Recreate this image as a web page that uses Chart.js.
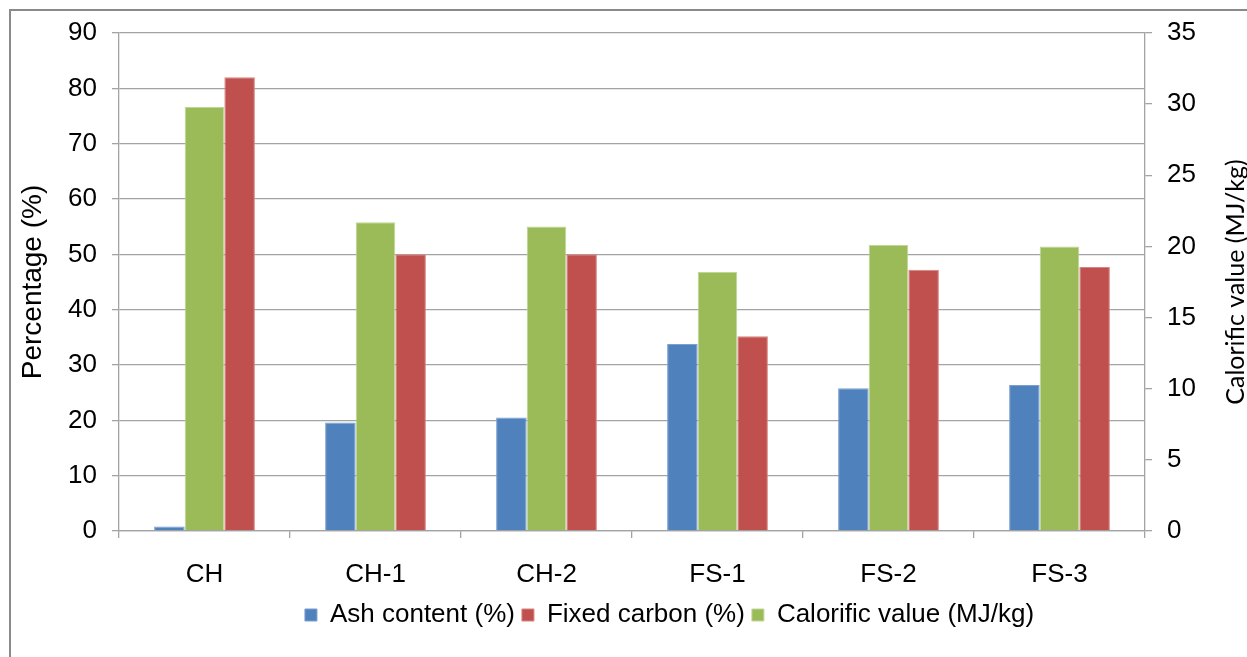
<!DOCTYPE html>
<html>
<head>
<meta charset="utf-8">
<script src="https://cdn.jsdelivr.net/npm/chart.js@4.4.1/dist/chart.umd.min.js"></script>
<style>
  html, body { margin: 0; padding: 0; background: #ffffff; }
  #wrap { width: 1247px; height: 657px; position: relative; }
</style>
</head>
<body>
<div id="wrap"><canvas id="chart"></canvas></div>
<script>
// Proximate / energy properties of the samples
const categories = ['CH', 'CH-1', 'CH-2', 'FS-1', 'FS-2', 'FS-3'];
const ashContent = [0.8, 19.6, 20.5, 33.8, 25.8, 26.4];        // %
const fixedCarbon = [82.0, 50.0, 50.0, 35.2, 47.2, 47.7];      // %
const calorificValue = [29.8, 21.7, 21.4, 18.2, 20.1, 20.0];   // MJ/kg

// Axis tick values
const percentTicks = [0, 10, 20, 30, 40, 50, 60, 70, 80, 90];
const calorificTicks = [0, 5, 10, 15, 20, 25, 30, 35];

const legendOrder = ['Ash content (%)', 'Fixed carbon (%)', 'Calorific value (MJ/kg)'];
const FONT = "'Liberation Sans', Arial, sans-serif";

// Outer frame of the chart
const framePlugin = {
  id: 'frame',
  beforeDraw(chart) {
    const ctx = chart.ctx;
    ctx.save();
    ctx.fillStyle = '#ffffff';
    ctx.fillRect(0, 0, chart.width, chart.height);
    ctx.strokeStyle = '#8a8a8a';
    ctx.lineWidth = 2;
    ctx.strokeRect(10, 10, chart.width + 20, chart.height + 20);
    ctx.restore();
  }
};

// Legend sits a little right of the canvas centre
const legendShiftPlugin = {
  id: 'legendShift',
  afterLayout(chart) {
    const lg = chart.legend;
    if (lg) { lg.left += 46; lg.right += 46; }
  }
};

// Secondary axis title, read bottom-to-top
const rightTitlePlugin = {
  id: 'rightTitle',
  afterDraw(chart) {
    const s = chart.scales.y1;
    const ctx = chart.ctx;
    ctx.save();
    ctx.translate(1236, (s.top + s.bottom) / 2);
    ctx.rotate(-Math.PI / 2);
    ctx.font = "25px Lato, 'Open Sans', sans-serif";
    ctx.fillStyle = '#000000';
    ctx.textAlign = 'center';
    ctx.textBaseline = 'middle';
    ctx.fillText('Calorific value (MJ/kg)', 0, 0);
    ctx.restore();
  }
};

const gridColor = '#a3a3a3';

new Chart(document.getElementById('chart'), {
  type: 'bar',
  data: {
    labels: categories,
    datasets: [
      {
        label: 'Ash content (%)', data: ashContent, yAxisID: 'y',
        backgroundColor: '#4f81bd', borderColor: '#7a9fd0', borderWidth: 1,
        barPercentage: 0.87, categoryPercentage: 0.616
      },
      {
        label: 'Calorific value (MJ/kg)', data: calorificValue, yAxisID: 'y1',
        backgroundColor: '#9bbb59', borderColor: '#c0d896', borderWidth: 1,
        barPercentage: 1.128, categoryPercentage: 0.616
      },
      {
        label: 'Fixed carbon (%)', data: fixedCarbon, yAxisID: 'y',
        backgroundColor: '#c0504d', borderColor: '#d88482', borderWidth: 1,
        barPercentage: 0.87, categoryPercentage: 0.616
      }
    ]
  },
  options: {
    responsive: true,
    maintainAspectRatio: false,
    animation: false,
    layout: { padding: { left: 0, right: 0, top: 33, bottom: 19 } },
    plugins: {
      tooltip: { enabled: false },
      legend: {
        position: 'bottom',
        labels: {
          font: { family: FONT, size: 26 },
          color: '#000000',
          boxWidth: 12,
          boxHeight: 12,
          padding: 7,
          sort: (a, b) => legendOrder.indexOf(a.text) - legendOrder.indexOf(b.text)
        }
      }
    },
    scales: {
      x: {
        grid: {
          display: true, drawOnChartArea: false, drawTicks: true,
          tickLength: 7, color: gridColor, lineWidth: 1.3, offset: true
        },
        border: { display: true, color: gridColor, width: 1.3 },
        ticks: { font: { family: FONT, size: 26 }, color: '#000000', padding: 21 },
        afterFit(s) { s.height = 64; }
      },
      y: {
        position: 'left',
        min: percentTicks[0],
        max: percentTicks[percentTicks.length - 1],
        afterBuildTicks(s) { s.ticks = percentTicks.map(v => ({ value: v })); },
        grid: { color: gridColor, lineWidth: 1.3, tickLength: 7, drawTicks: true },
        border: { display: true, color: gridColor, width: 1.3 },
        ticks: { font: { family: FONT, size: 26 }, color: '#000000', padding: 15 },
        title: {
          display: true, text: 'Percentage (%)',
          font: { family: FONT, size: 28 }, color: '#000000',
          padding: { top: 16, bottom: 0 }
        },
        afterFit(s) { s.width = 119; }
      },
      y1: {
        position: 'right',
        min: calorificTicks[0],
        max: calorificTicks[calorificTicks.length - 1],
        afterBuildTicks(s) { s.ticks = calorificTicks.map(v => ({ value: v })); },
        grid: { drawOnChartArea: false, color: gridColor, lineWidth: 1.3, tickLength: 7 },
        border: { display: true, color: gridColor, width: 1.3 },
        ticks: { font: { family: FONT, size: 26 }, color: '#000000', padding: 15 },
        afterFit(s) { s.width = 102; }
      }
    }
  },
  plugins: [framePlugin, legendShiftPlugin, rightTitlePlugin]
});
</script>
</body>
</html>
